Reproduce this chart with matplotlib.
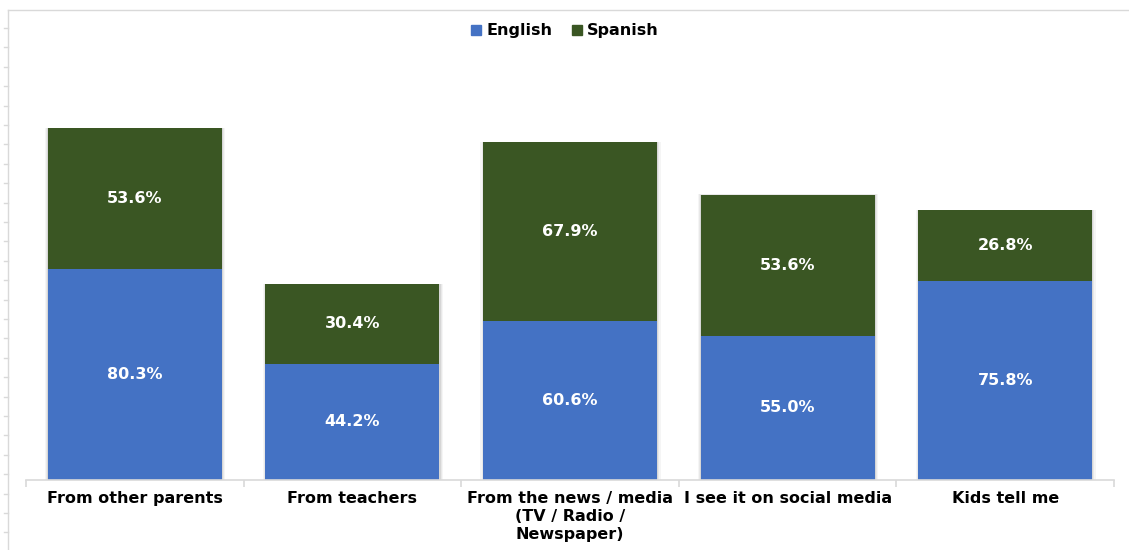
import matplotlib

matplotlib.use("Agg")
import matplotlib.pyplot as plt
from matplotlib.lines import Line2D
import numpy as np

categories = [
    "From other parents",
    "From teachers",
    "From the news / media\n(TV / Radio /\nNewspaper)",
    "I see it on social media",
    "Kids tell me",
]
english = [80.3, 44.2, 60.6, 55.0, 75.8]
spanish = [53.6, 30.4, 67.9, 53.6, 26.8]

BLUE = "#4472C4"
GREEN = "#3A5623"
GRID = "#d9d9d9"

plt.rcParams["font.family"] = ["DejaVu Sans"]

fig = plt.figure(figsize=(11.29, 5.5), dpi=100, facecolor="white")
ax = fig.add_axes([26 / 1129, 1 - 480 / 550, (1114 - 26) / 1129, (480 - 15) / 550])

x = np.arange(len(categories))
total = np.array(english) + np.array(spanish)

# soft shadow behind each stacked column
for grow, alpha in ((0.028, 0.07), (0.016, 0.11), (0.007, 0.17)):
    ax.bar(x + 0.002, total + grow * 6, width=0.8 + grow, color="#7f7f7f", alpha=alpha, linewidth=0,
           zorder=2)

bars_en = ax.bar(x, english, width=0.8, color=BLUE, label="English", linewidth=0, zorder=3)
bars_es = ax.bar(x, spanish, width=0.8, bottom=english, color=GREEN, label="Spanish", linewidth=0,
                 zorder=3)

for bars, values in ((bars_en, english), (bars_es, spanish)):
    for rect, val in zip(bars, values):
        ax.text(rect.get_x() + rect.get_width() / 2, rect.get_y() + rect.get_height() / 2,
                f"{val:.1f}%", ha="center", va="center", color="white", fontsize=11.5,
                fontweight="bold", zorder=4)

ax.set_xlim(-0.5, len(categories) - 0.5)
ax.set_ylim(0, 177)
ax.set_yticks([])
for side in ("left", "right", "top"):
    ax.spines[side].set_visible(False)
ax.spines["bottom"].set_color(GRID)
ax.spines["bottom"].set_linewidth(1.2)
ax.spines["bottom"].set_zorder(5)
ax.set_xticks(x)
ax.set_xticklabels(categories, fontsize=11.5, fontweight="bold", color="black", linespacing=1.25)
ax.tick_params(axis="x", which="major", length=0, pad=8)
ax.set_xticks(np.arange(len(categories) + 1) - 0.5, minor=True)
ax.tick_params(axis="x", which="minor", length=5, color=GRID, width=1.2)

handles = [
    Line2D([0], [0], marker="s", linestyle="None", markersize=6.5, color=BLUE, label="English"),
    Line2D([0], [0], marker="s", linestyle="None", markersize=6.5, color=GREEN, label="Spanish"),
]
fig.legend(handles=handles, loc="center", bbox_to_anchor=(0.5, 1 - 31 / 550), ncol=2, frameon=False,
           prop={"weight": "bold", "size": 11.5}, handletextpad=0.25, columnspacing=1.1,
           handlelength=0.8)

# faint spreadsheet lines around the chart
fig.add_artist(Line2D([8 / 1129, 8 / 1129], [0, 1 - 10 / 550], color=GRID, linewidth=1))
fig.add_artist(Line2D([8 / 1129, 1], [1 - 10 / 550, 1 - 10 / 550], color=GRID, linewidth=1))
for yy in np.arange(28, 550, 19.4):
    fig.add_artist(Line2D([4 / 1129, 8 / 1129], [1 - yy / 550, 1 - yy / 550], color=GRID, linewidth=1))

fig.savefig("out.png", dpi=100, facecolor="white")
